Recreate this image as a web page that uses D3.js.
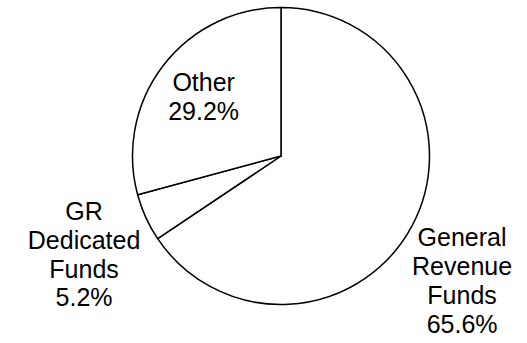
<!DOCTYPE html>
<html>
<head>
<meta charset="utf-8">
<script src="https://cdn.jsdelivr.net/npm/d3@7"></script>
<style>
  body { margin: 0; background: #fff; }
  text { font-family: "Liberation Sans", Arial, sans-serif; fill: #000; }
</style>
</head>
<body>
<div id="chart"></div>
<script>
// Data
const categories = ["General Revenue Funds", "GR Dedicated Funds", "Other"];
const shares = [65.6, 5.2, 29.2];
const labelLines = [
    ["General", "Revenue", "Funds", "65.6%"],
    ["GR", "Dedicated", "Funds", "5.2%"],
    ["Other", "29.2%"]
];

const width = 527, height = 343;
const cx = 281, cy = 156, radius = 148.5;

// label placement: radius in units of pie radius, plus angle nudge (degrees)
const labelLayout = [
    { r: 1.481, nudge: 6.5 },
    { r: 1.483, nudge: -2.1 },
    { r: 0.656, nudge: 0 }
];

const svg = d3.select("#chart")
    .append("svg")
    .attr("width", width)
    .attr("height", height)
    .append("g")
    .attr("transform", `translate(${cx},${cy})`);

const data = categories.map((c, i) => ({ name: c, value: shares[i], lines: labelLines[i], i }));

const pie = d3.pie().sort(null).value(d => d.value);
const arc = d3.arc().innerRadius(0).outerRadius(radius);
const arcs = pie(data);

svg.selectAll("path.slice")
    .data(arcs)
    .enter().append("path")
    .attr("class", "slice")
    .attr("d", arc)
    .attr("fill", "#fff")
    .attr("stroke", "#000")
    .attr("stroke-width", 1.5)
    .attr("stroke-linejoin", "round");

const fontSize = 25, lineH = 28.75;

svg.selectAll("text.label")
    .data(arcs)
    .enter().append("text")
    .attr("class", "label")
    .attr("text-anchor", "middle")
    .style("font-size", fontSize + "px")
    .attr("transform", d => {
        const lay = labelLayout[d.data.i];
        const a = (d.startAngle + d.endAngle) / 2 + lay.nudge * Math.PI / 180;
        const rr = radius * lay.r;
        return `translate(${rr * Math.sin(a)},${-rr * Math.cos(a)})`;
    })
    .each(function (d) {
        const n = d.data.lines.length;
        d3.select(this).selectAll("tspan")
            .data(d.data.lines)
            .enter().append("tspan")
            .attr("x", 0)
            .attr("y", (t, k) => (k - (n - 1) / 2) * lineH)
            .attr("dy", "0.35em")
            .text(t => t);
    });
</script>
</body>
</html>
